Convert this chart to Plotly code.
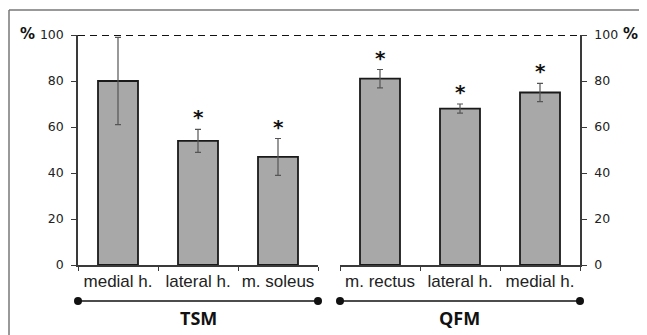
import plotly.graph_objects as go

tsm_labels = ["medial h.", "lateral h.", "m. soleus"]
tsm_values = [80, 54, 47]
tsm_errors = [19, 5, 8]
tsm_sig = [False, True, True]

qfm_labels = ["m. rectus", "lateral h.", "medial h."]
qfm_values = [81, 68, 75]
qfm_errors = [4, 2, 4]
qfm_sig = [True, True, True]

group_names = ["TSM", "QFM"]
y_ticks = [0, 20, 40, 60, 80, 100]

OFF = 8  # page body margin
W, H = 647 - OFF, 335 - OFF
# planned in screen pixels
L_AX, R_AX, TOP, BOT = 78, 580, 35, 265
ML = L_AX - OFF
MR = W - (R_AX - OFF)
MT = TOP - OFF
MB = H - (BOT - OFF)
PW, PH = W - ML - MR, H - MT - MB

def px(p):
    return (p - OFF - ML) / PW

def py(q):
    return (H - MB - (q - OFF)) / PH

bar_style = dict(marker=dict(color="#a8a8a8", line=dict(color="#1a1a1a", width=1.8)),
                 width=0.5, showlegend=False)
err_style = lambda arr: dict(type="data", array=arr, visible=True, color="#555555", thickness=1.2, width=3)

fig = go.Figure()
fig.add_trace(go.Bar(x=tsm_labels, y=tsm_values, error_y=err_style(tsm_errors), xaxis="x", yaxis="y", **bar_style))
fig.add_trace(go.Bar(x=qfm_labels, y=qfm_values, error_y=err_style(qfm_errors), xaxis="x2", yaxis="y2", **bar_style))

ann = []
for labels, vals, errs, sig, xr in [(tsm_labels, tsm_values, tsm_errors, tsm_sig, "x"),
                                    (qfm_labels, qfm_values, qfm_errors, qfm_sig, "x2")]:
    for lab, v, e, s in zip(labels, vals, errs, sig):
        if s:
            ann.append(dict(x=lab, y=v + e, xref=xr, yref="y" if xr == "x" else "y2",
                            text="<b>*</b>", showarrow=False, yanchor="bottom", yshift=-2,
                            font=dict(family="DejaVu Sans", size=20, color="#111")))

axis_font = dict(family="DejaVu Sans", size=12.5, color="#222")
cat_font = dict(family="Liberation Sans", size=17, color="#222")
line_col = "#3a3a3a"

common_x = dict(type="category", range=[-0.5, 2.5], showline=True, linecolor=line_col,
                linewidth=1.5, ticks="outside", ticklen=4, tickcolor=line_col,
                tickson="boundaries", tickfont=cat_font, showgrid=False, tickangle=0)
common_y = dict(domain=[0, 1], range=[0, 100], tickvals=y_ticks, showline=True,
                linecolor=line_col, linewidth=1.5, ticks="outside", ticklen=5,
                tickcolor=line_col, tickfont=axis_font, showgrid=False, zeroline=False,
                ticklabelstandoff=5)

fig.update_layout(
    width=W, height=H, margin=dict(l=ML, r=MR, t=MT, b=MB),
    paper_bgcolor="white", plot_bgcolor="white",
    xaxis=dict(domain=[0, px(318)], anchor="y", **common_x),
    xaxis2=dict(domain=[px(340), 1], anchor="y2", **common_x),
    yaxis=dict(anchor="x", **common_y),
    yaxis2=dict(anchor="x2", side="right", **common_y),
)

frame = dict(color="#777", width=1.5)
shapes = [
    dict(type="line", xref="paper", yref="y", x0=0, x1=1, y0=100, y1=100,
         line=dict(color="#111", width=2, dash="7px,5px")),
    dict(type="line", xref="paper", yref="paper", x0=px(9), x1=px(660), y0=py(10), y1=py(10), line=frame),
    dict(type="line", xref="paper", yref="paper", x0=px(9), x1=px(9), y0=py(10), y1=py(345), line=frame),
]
for (a, b) in [(78, 318), (340, 580)]:
    shapes.append(dict(type="line", xref="paper", yref="paper", x0=px(a), x1=px(b),
                       y0=py(301), y1=py(301), line=dict(color="#111", width=1.5)))
    for c in (a, b):
        shapes.append(dict(type="circle", xref="paper", yref="paper", xsizemode="pixel",
                           ysizemode="pixel", xanchor=px(c), yanchor=py(301),
                           x0=-4, x1=4, y0=-4, y1=4, fillcolor="#111", line=dict(color="#111", width=0)))
fig.update_layout(shapes=shapes)

for name, cx in zip(group_names, [198, 459]):
    ann.append(dict(x=px(cx), y=py(318), xref="paper", yref="paper", text="<b>" + name + "</b>",
                    xanchor="center", yanchor="middle",
                    showarrow=False, font=dict(family="Open Sans", size=18, color="#111")))
for cx in (27, 630):
    ann.append(dict(x=px(cx), y=py(34), xref="paper", yref="paper", text="<b>%</b>", showarrow=False,
                    xanchor="center", yanchor="middle",
                    font=dict(family="DejaVu Sans", size=15, color="#111")))
fig.update_layout(annotations=ann)

fig.write_html("out.html")
